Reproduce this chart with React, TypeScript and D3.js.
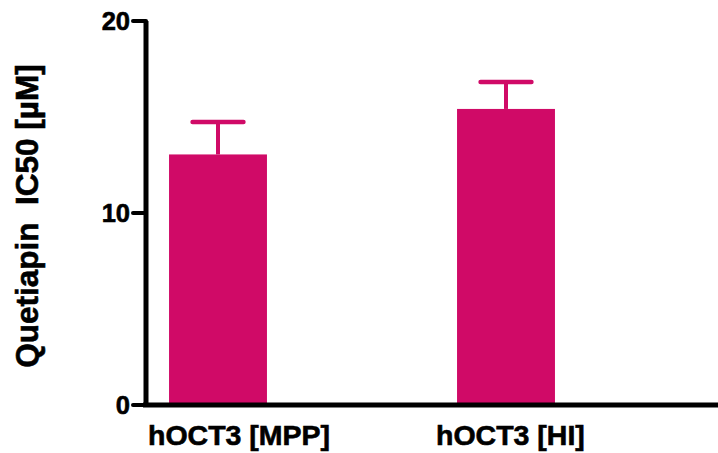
import React from 'react'
import * as d3 from 'd3'

const categories = ['hOCT3 [MPP]', 'hOCT3 [HI]']
const means = [13.05, 15.42]
const upperErrors = [14.74, 16.82]
const yTicks = [0, 10, 20]

const W = 718
const H = 453
const barColor = '#d00a67'
const font = "'Liberation Sans', Arial, Helvetica, sans-serif"

const App = () => {
  const y = d3.scaleLinear().domain([0, 20]).range([405, 21])
  const x = d3
    .scaleBand()
    .domain(categories)
    .range([74, 650])
    .paddingInner(0.66)
    .paddingOuter(0.33)
  const axisX = 146

  return (
    <div style={{position: 'absolute', left: 0, top: 0}}>
      <svg width={W} height={H} style={{display: 'block'}}>
        {categories.map((c, i) => {
          const bx = x(c) as number
          const cx = bx + x.bandwidth() / 2
          const capHalf = x.bandwidth() * 0.26
          return (
            <g key={c}>
              <rect
                x={bx}
                y={y(means[i])}
                width={x.bandwidth()}
                height={y(0) - y(means[i])}
                fill={barColor}
              />
              <line
                x1={cx}
                x2={cx}
                y1={y(means[i])}
                y2={y(upperErrors[i])}
                stroke={barColor}
                strokeWidth={4}
              />
              <line
                x1={cx - capHalf}
                x2={cx + capHalf}
                y1={y(upperErrors[i])}
                y2={y(upperErrors[i])}
                stroke={barColor}
                strokeWidth={4.5}
                strokeLinecap="round"
              />
              <text
                x={bx - 21}
                y={445}
                fontFamily={font}
                fontWeight="bold"
                fontSize={28.5}
                fill="#000"
                stroke="#000"
                strokeWidth={0.6}
              >
                {c}
              </text>
            </g>
          )
        })}

        {/* y axis */}
        <path
          d={`M${axisX},${y(0)} L${axisX},${y(20)}`}
          stroke="#000"
          strokeWidth={5}
          fill="none"
        />
        {yTicks.map(t => (
          <g key={t}>
            <line
              x1={133}
              x2={axisX}
              y1={y(t)}
              y2={y(t)}
              stroke="#000"
              strokeWidth={4}
              strokeLinecap="round"
            />
            <text
              x={130}
              y={y(t)}
              dy="0.36em"
              textAnchor="end"
              fontFamily={font}
              fontWeight="bold"
              fontSize={25.5}
              fill="#000"
              stroke="#000"
              strokeWidth={0.6}
            >
              {t}
            </text>
          </g>
        ))}

        {/* x axis */}
        <line x1={axisX - 3} x2={W} y1={y(0)} y2={y(0)} stroke="#000" strokeWidth={5} />

        <text
          transform={`translate(38,216) rotate(-90)`}
          textAnchor="middle"
          fontFamily={font}
          fontWeight="bold"
          fontSize={31.5}
          fill="#000"
          stroke="#000"
          strokeWidth={0.6}
          style={{whiteSpace: 'pre'}}
        >
          {'Quetiapin  IC50 [µM]'}
        </text>
      </svg>
    </div>
  )
}

export default App
